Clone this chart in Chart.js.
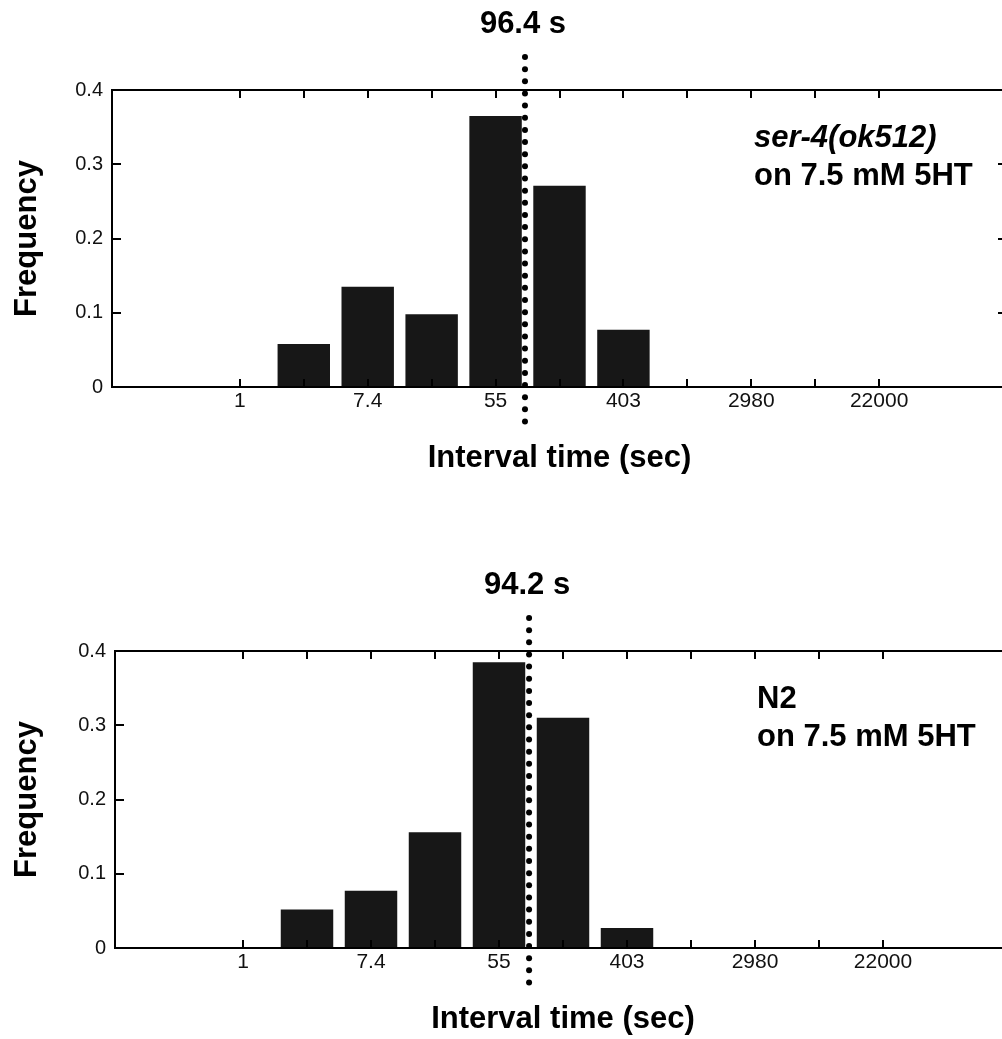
<!DOCTYPE html>
<html><head><meta charset="utf-8">
<script src="https://cdn.jsdelivr.net/npm/chart.js@4/dist/chart.umd.min.js"></script>
<style>
html,body{margin:0;padding:0;background:#fff;overflow:hidden;width:1002px;height:1039px;position:relative;}
.panel{position:absolute;left:0;width:1020px;height:561px;}
#p1{top:0}
#p2{top:561px}
</style></head><body>
<div class="panel" id="p1"><canvas id="c1" width="1020" height="561"></canvas></div>
<div class="panel" id="p2"><canvas id="c2" width="1020" height="561"></canvas></div>
<script>
// Bin centres, expressed as ln(interval in seconds)
const binCenters = [1, 2, 3, 4, 5, 6];
// Frequencies per bin
const ser4Freq = [0.058, 0.135, 0.098, 0.365, 0.271, 0.077];
const n2Freq   = [0.052, 0.077, 0.156, 0.385, 0.310, 0.027];
// Labelled x ticks (ln units) and their labels (seconds)
const xTickPositions = [0, 2, 4, 6, 8, 10];
const xTickLabels = ['1', '7.4', '55', '403', '2980', '22000'];
const yTickLabels = ['0', '0.1', '0.2', '0.3', '0.4'];
// Median markers: label text and where the dotted line sits (ln units)
const medianLabels = ['96.4 s', '94.2 s'];
const medianPositions = [4.46, 4.47];
// Panel annotations
const strainLine1 = ['ser-4(ok512)', 'N2'];
const strainLine2 = ['on 7.5 mM 5HT', 'on 7.5 mM 5HT'];
const strainItalic = [true, false];

const FONT = "'Liberation Sans', Arial, Helvetica, sans-serif";

function decorPlugin(idx) {
  return {
    id: 'decor' + idx,
    afterDatasetsDraw(chart) {
      const {ctx, chartArea: a, scales: {x, y}} = chart;
      ctx.save();
      ctx.strokeStyle = '#000';
      ctx.lineWidth = 2;
      ctx.lineCap = 'butt';
      // box frame
      ctx.beginPath();
      ctx.moveTo(a.left, a.bottom); ctx.lineTo(a.left, a.top);
      ctx.lineTo(a.right, a.top); ctx.lineTo(a.right, a.bottom);
      ctx.lineTo(a.left, a.bottom);
      ctx.stroke();
      // inward tick marks
      ctx.beginPath();
      const lo = xTickPositions[0], hi = xTickPositions[xTickPositions.length - 1];
      x.ticks.forEach(t => {
        if (t.value < lo || t.value > hi) return;
        const px = Math.round(x.getPixelForValue(t.value));
        ctx.moveTo(px, a.top); ctx.lineTo(px, a.top + 8);
        ctx.moveTo(px, a.bottom); ctx.lineTo(px, a.bottom - 8);
      });
      y.ticks.forEach(t => {
        const py = Math.round(y.getPixelForValue(t.value));
        ctx.moveTo(a.left, py); ctx.lineTo(a.left + 9, py);
        ctx.moveTo(a.right, py); ctx.lineTo(a.right - 9, py);
      });
      ctx.stroke();
      // dotted median line
      const mx = x.getPixelForValue(medianPositions[idx]);
      ctx.fillStyle = '#000';
      for (let py = a.top - 33; py <= a.bottom + 44; py += 12.15) {
        ctx.beginPath();
        ctx.arc(mx, py, 3, 0, Math.PI * 2);
        ctx.fill();
      }
      // median label
      ctx.font = 'bold 31px ' + FONT;
      ctx.textAlign = 'center';
      ctx.textBaseline = 'alphabetic';
      ctx.fillText(medianLabels[idx], mx - 2, a.top - 57);
      // strain annotation
      ctx.textAlign = 'left';
      ctx.font = (strainItalic[idx] ? 'italic ' : '') + 'bold 31px ' + FONT;
      ctx.fillText(strainLine1[idx], a.left + 642, a.top + 57);
      ctx.font = 'bold 31px ' + FONT;
      ctx.fillText(strainLine2[idx], a.left + 642, a.top + 94.5);
      ctx.restore();
    }
  };
}

function makeChart(canvasId, idx, freq, leftWidth, padRight) {
  return new Chart(document.getElementById(canvasId), {
    type: 'bar',
    data: {
      datasets: [{
        data: binCenters.map((c, i) => ({x: c, y: freq[i]})),
        backgroundColor: '#171717',
        borderWidth: 0,
        barPercentage: 0.82,
        categoryPercentage: 1
      }]
    },
    options: {
      responsive: false,
      animation: false,
      devicePixelRatio: 1,
      layout: {padding: {top: 90, left: 0, right: padRight, bottom: 74}},
      plugins: {legend: {display: false}, tooltip: {enabled: false}, title: {display: false}},
      scales: {
        x: {
          type: 'linear',
          offset: false,
          min: -2, max: 12,
          afterFit: s => { s.height = 100; },
          grid: {display: false, drawTicks: false, offset: false},
          border: {display: true, color: '#000', width: 2},
          ticks: {
            stepSize: 1, autoSkip: false, maxRotation: 0, padding: 2,
            color: '#111',
            font: {family: FONT, size: 21},
            callback: v => {
              const k = xTickPositions.indexOf(Math.round(v));
              return (k >= 0 && Math.abs(v - Math.round(v)) < 1e-6) ? xTickLabels[k] : '';
            }
          },
          title: {
            display: true, text: 'Interval time (sec)', color: '#000',
            font: {family: FONT, size: 31, weight: 'bold'},
            padding: {top: 0, bottom: 10}
          }
        },
        y: {
          min: 0, max: 0.4,
          afterFit: s => { s.width = leftWidth; },
          grid: {display: false, drawTicks: false},
          border: {display: true, color: '#000', width: 2},
          ticks: {
            stepSize: 0.1, padding: 9, color: '#111',
            font: {family: FONT, size: 20},
            callback: v => yTickLabels[Math.round(v * 10)]
          },
          title: {
            display: true, text: 'Frequency', color: '#000',
            font: {family: FONT, size: 31, weight: 'bold'},
            padding: {top: 9, bottom: 0}
          }
        }
      }
    },
    plugins: [decorPlugin(idx)]
  });
}

makeChart('c1', 0, ser4Freq, 112, 13);
makeChart('c2', 1, n2Freq, 115, 9);
</script>
</body></html>
